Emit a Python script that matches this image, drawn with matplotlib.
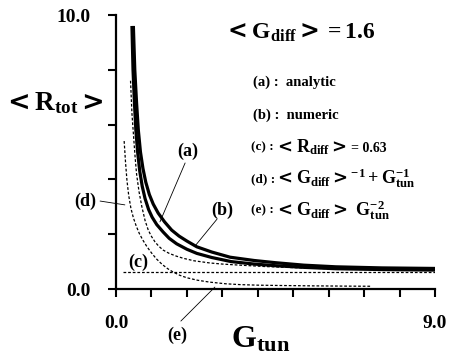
import matplotlib
matplotlib.use('Agg')
import matplotlib.pyplot as plt

# ── Style ─────────────────────────────────────────────────────────────────────

plt.rcParams['font.family'] = ['Liberation Serif', 'DejaVu Serif']
plt.rcParams['font.weight'] = 'bold'
plt.rcParams['mathtext.fontset'] = 'custom'
plt.rcParams['mathtext.rm'] = 'Liberation Serif:bold'
plt.rcParams['mathtext.it'] = 'Liberation Serif:bold'
plt.rcParams['mathtext.bf'] = 'Liberation Serif:bold'
plt.rcParams['mathtext.sf'] = 'DejaVu Sans:bold'   # heavy angle brackets
plt.rcParams['mathtext.default'] = 'rm'

# ── Data ──────────────────────────────────────────────────────────────────────

G_DIFF = 1.6
R_DIFF = 0.63

# (a) analytic
a_g = [0.45, 0.48, 0.52, 0.56, 0.61, 0.67, 0.74, 0.82, 0.92, 1.02, 1.15, 1.33,
       1.5, 1.71, 2.0, 2.28, 2.7, 3.25, 3.9, 4.5, 5.3, 6.2, 7.5, 9.0]
a_v = [9.6, 8.0, 6.8, 5.8, 5.0, 4.3, 3.75, 3.3, 2.9, 2.62, 2.35, 2.08,
       1.85, 1.65, 1.45, 1.30, 1.15, 1.00, 0.91, 0.85, 0.79, 0.74, 0.71, 0.69]

# (b) numeric
b_g = [0.49, 0.53, 0.58, 0.63, 0.69, 0.76, 0.84, 0.94, 1.05, 1.19, 1.37, 1.57,
       1.78, 2.0, 2.28, 2.7, 3.22, 3.9, 4.5, 5.3, 6.2, 7.5, 9.0]
b_v = [9.6, 8.0, 6.8, 5.8, 5.0, 4.4, 3.9, 3.45, 3.1, 2.77, 2.45, 2.15,
       1.93, 1.75, 1.54, 1.35, 1.16, 1.04, 0.96, 0.87, 0.81, 0.77, 0.75]

# (c) constant <R_diff>
c_g = [0.2, 9.0]
c_v = [R_DIFF, R_DIFF]

# (d) <G_diff>^-1 + G_tun^-1
d_g = [0.41, 0.45, 0.50, 0.54, 0.58, 0.65, 0.73, 0.82, 0.91, 1.0, 1.10, 1.2,
       1.33, 1.5, 1.7, 1.9, 2.2, 2.65, 3.0, 3.5, 4.2, 5.0, 6.0, 7.0, 8.0, 9.0]
d_v = [7.6, 6.4, 5.5, 4.8, 4.2, 3.55, 3.0, 2.5, 2.15, 1.92, 1.72, 1.57,
       1.42, 1.3, 1.2, 1.12, 1.03, 0.95, 0.91, 0.87, 0.82, 0.78, 0.74, 0.72, 0.70, 0.68]

# (e) <G_diff> G_tun^-2
e_g = [0.23, 0.27, 0.31, 0.36, 0.42, 0.49, 0.57, 0.66, 0.76, 0.87, 1.0, 1.14,
       1.3, 1.46, 1.61, 1.8, 2.0, 2.3, 2.65, 3.1, 3.5, 4.0, 4.5, 5.5, 6.5, 7.2]
e_v = [5.4, 4.6, 3.95, 3.4, 2.95, 2.6, 2.3, 2.02, 1.78, 1.55, 1.32, 1.1,
       0.9, 0.74, 0.62, 0.5, 0.41, 0.32, 0.25, 0.19, 0.16, 0.14, 0.13, 0.115, 0.105, 0.10]

x_ticks = list(range(10))
x_labels = ['0.0'] + [''] * 8 + ['9.0']
y_ticks = [0, 2, 4, 6, 8, 10]
y_labels = ['0.0', '', '', '', '', '10.0']

# ── Figure ────────────────────────────────────────────────────────────────────

W, H = 449, 360
fig = plt.figure(figsize=(W / 100, H / 100), dpi=100)
ax = fig.add_axes([116 / W, 1 - 289 / H, (435 - 116) / W, (289 - 15) / H])


def fpx(x, y):
    """figure-fraction position from pixel coordinates"""
    return x / W, 1 - y / H


dash = (2.2, 1.5)
ax.plot(a_g, a_v, color='black', lw=2.3, solid_capstyle='butt')
ax.plot(b_g, b_v, color='black', lw=2.3, solid_capstyle='butt')
ax.plot(c_g, c_v, color='black', lw=0.9, dashes=dash)
ax.plot(d_g, d_v, color='black', lw=0.9, dashes=dash)
ax.plot(e_g, e_v, color='black', lw=0.9, dashes=dash)

ax.set_xlim(0, 9)
ax.set_ylim(0, 10)
for side in ['top', 'right']:
    ax.spines[side].set_visible(False)
for side in ['left', 'bottom']:
    ax.spines[side].set_linewidth(1.6)

ax.set_xticks(x_ticks)
ax.set_xticklabels(x_labels)
ax.set_yticks(y_ticks)
ax.set_yticklabels(y_labels)
ax.tick_params(axis='both', direction='out', length=6, width=1.5,
               labelsize=14)
ax.tick_params(axis='x', pad=13)
ax.tick_params(axis='y', pad=12)

LT = r'\mathsf{<}'
GT = r'\mathsf{>}'

# axis titles
fig.text(*fpx(3, 103), rf'${LT}R_{{tot}}{GT}$', fontsize=19.5, ha='left', va='center')
fig.text(*fpx(231, 340), r'$G_{tun}$', fontsize=23, ha='left', va='center')

# header and key
fig.text(*fpx(224, 33), rf'${LT}G_{{diff}}{GT}= 1.6$', fontsize=17,
         ha='left', va='center')
fig.text(*fpx(253, 82), '(a) :  analytic', fontsize=10.5, ha='left', va='center')
fig.text(*fpx(253, 115), '(b) :  numeric', fontsize=10.5, ha='left', va='center')

key_x0, key_x1 = 251, 275
fig.text(*fpx(key_x0, 147), '(c) :', fontsize=9.5, ha='left', va='center')
fig.text(*fpx(key_x1, 147), rf'${LT}R_{{diff}}{GT}$', fontsize=13,
         ha='left', va='center')
fig.text(*fpx(351, 149), '= 0.63', fontsize=10, ha='left', va='center')
fig.text(*fpx(key_x0, 179), '(d) :', fontsize=9.5, ha='left', va='center')
fig.text(*fpx(key_x1, 178), rf'${LT}G_{{diff}}{GT}^{{-1}} + G^{{-1}}_{{tun}}$',
         fontsize=13, ha='left', va='center')
fig.text(*fpx(key_x0, 210), '(e) :', fontsize=9.5, ha='left', va='center')
fig.text(*fpx(key_x1, 210), rf'${LT}G_{{diff}}{GT}\ G^{{-2}}_{{tun}}$',
         fontsize=13, ha='left', va='center')

# curve labels with leader lines
leader = dict(arrowstyle='-', color='black', lw=0.6, shrinkA=0, shrinkB=0)
ax.text(2.03, 5.04, '(a)', fontsize=13, ha='center', va='center')
ax.annotate('', xy=(1.24, 2.45), xytext=(1.95, 4.6), arrowprops=leader)
ax.text(2.99, 2.88, '(b)', fontsize=13, ha='center', va='center')
ax.annotate('', xy=(2.23, 1.57), xytext=(2.85, 2.55), arrowprops=leader)
ax.text(0.62, 0.99, '(c)', fontsize=13, ha='center', va='center')
ax.text(-0.87, 3.2, '(d)', fontsize=13, ha='center', va='center', clip_on=False)
ax.annotate('', xy=(0.25, 3.07), xytext=(-0.45, 3.21), arrowprops=leader,
            annotation_clip=False)
ax.text(1.72, -1.68, '(e)', fontsize=13, ha='center', va='center', clip_on=False)
ax.annotate('', xy=(2.79, 0.07), xytext=(1.83, -1.17), arrowprops=leader,
            annotation_clip=False)

fig.savefig('out.png', dpi=100)
plt.close(fig)
